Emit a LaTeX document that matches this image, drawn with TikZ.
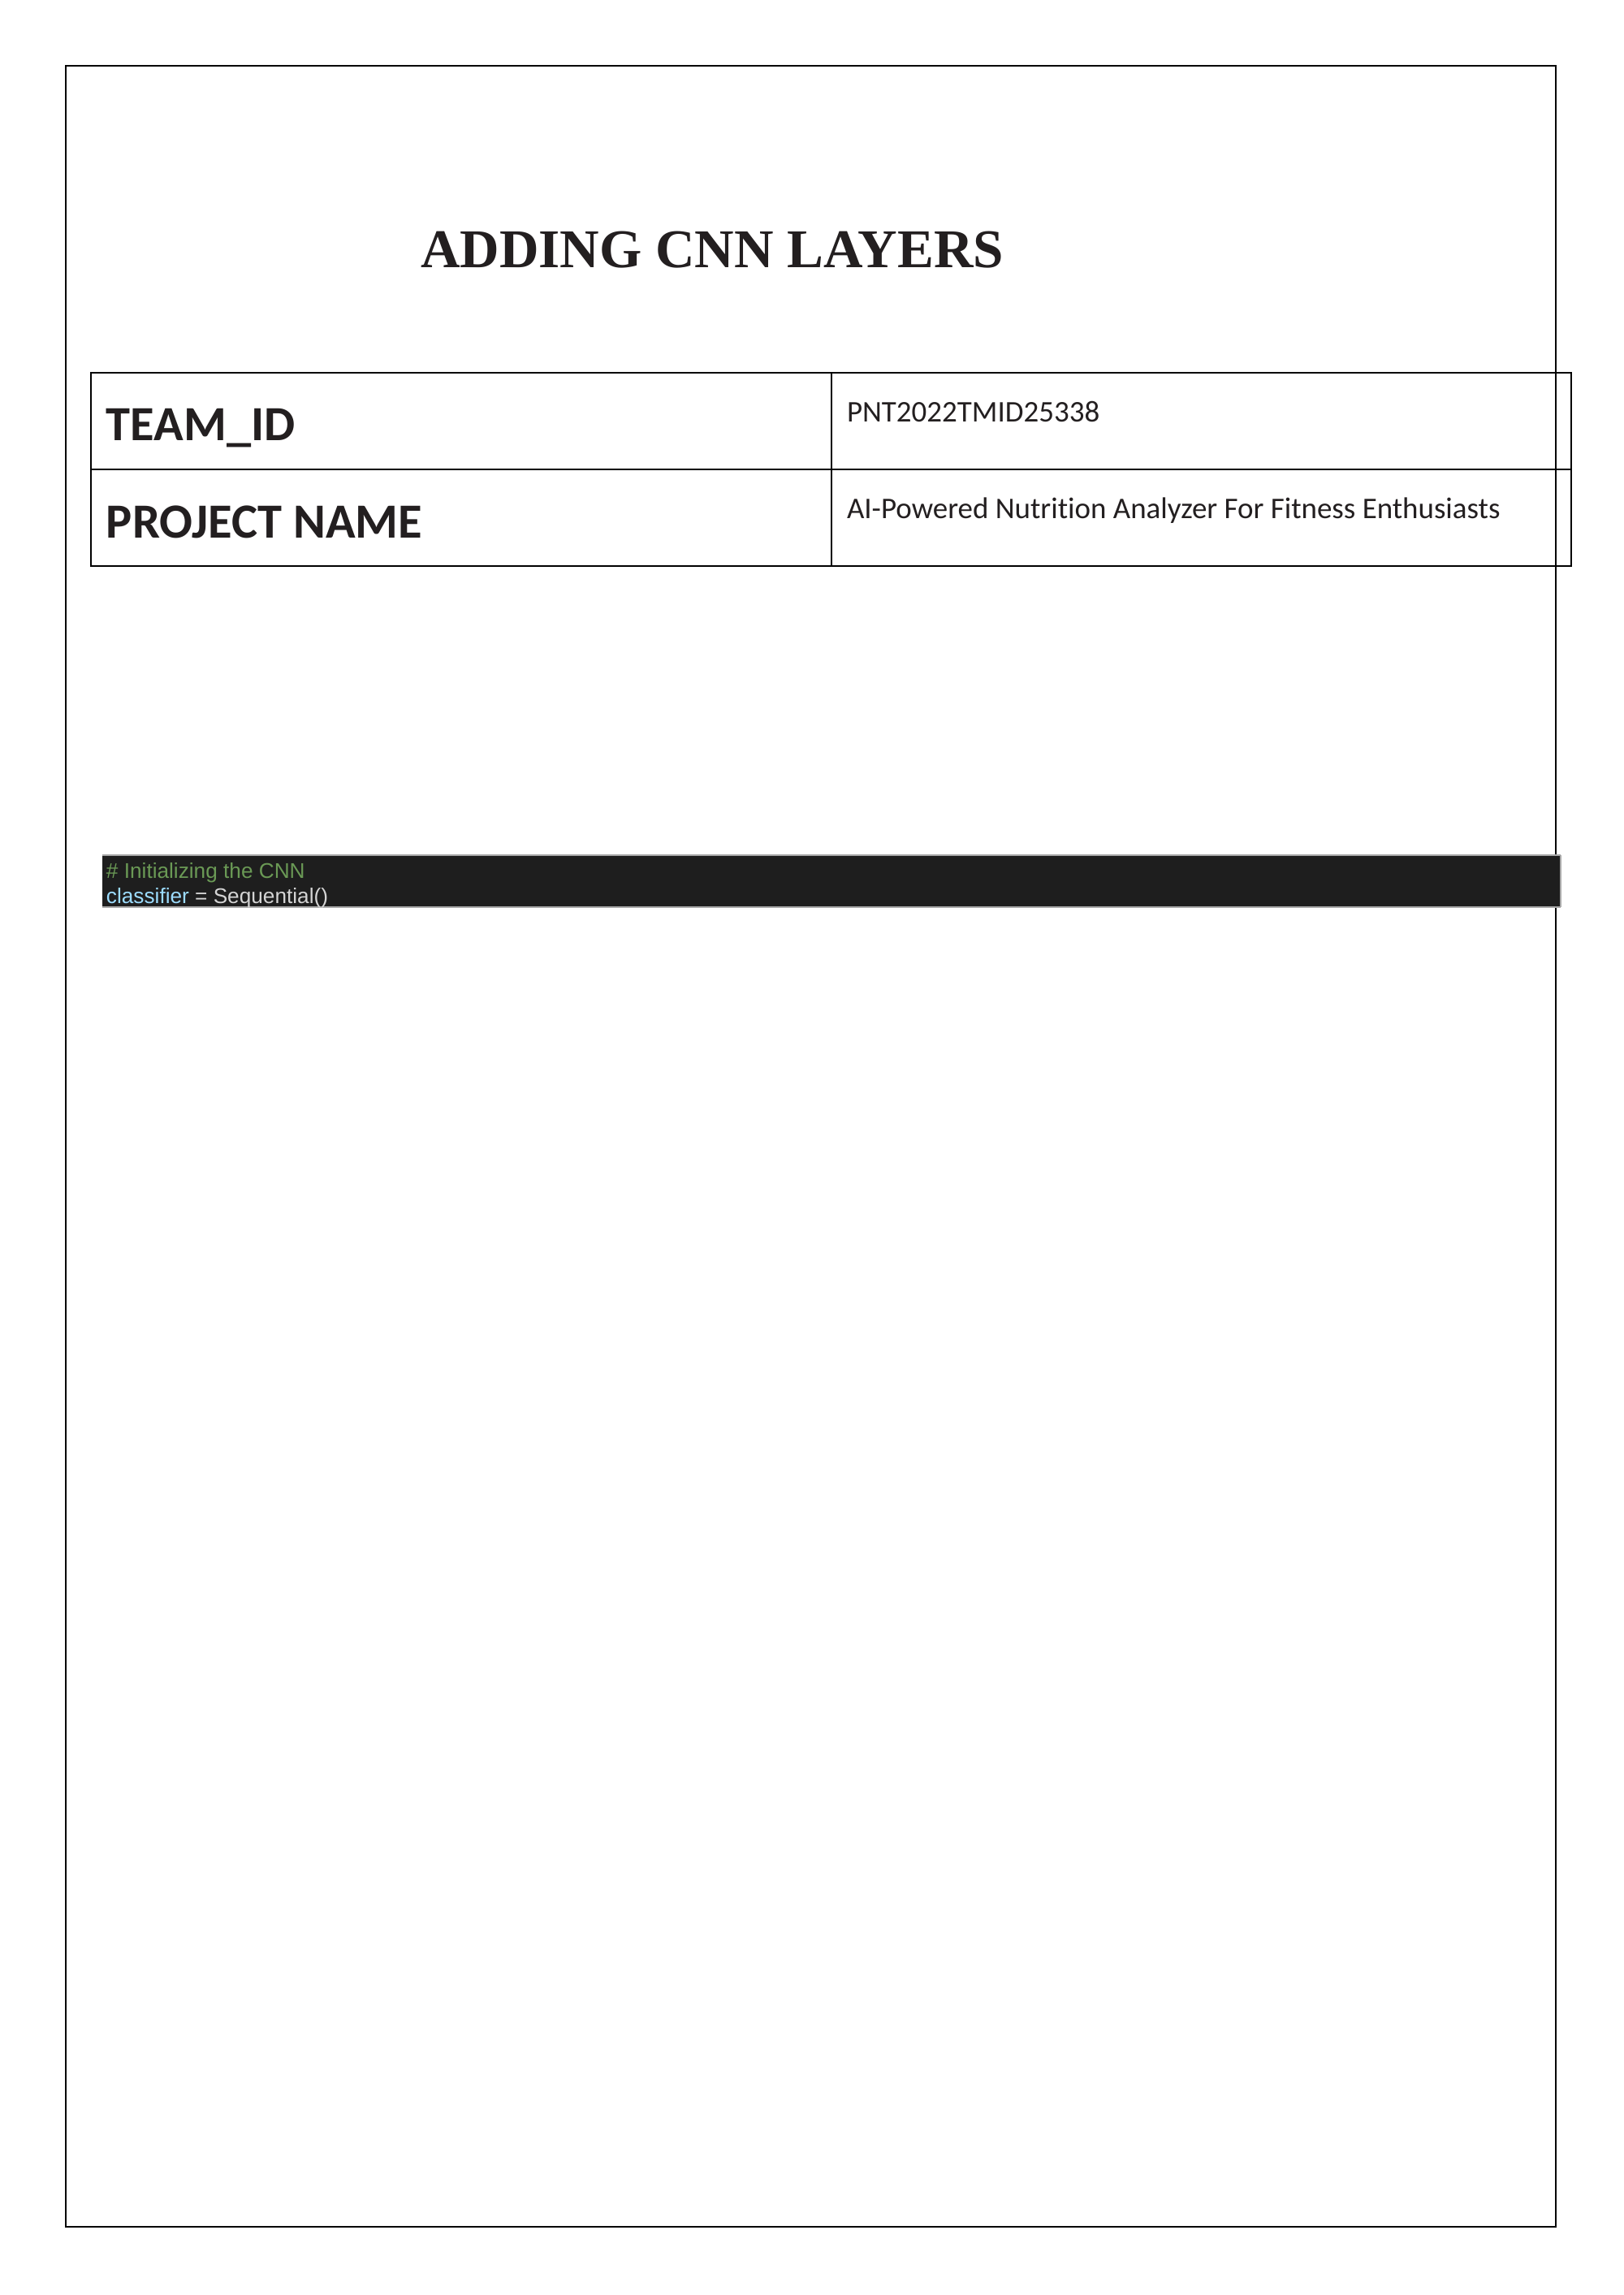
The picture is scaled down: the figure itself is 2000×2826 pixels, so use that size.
\documentclass[tikz,border=0pt]{standalone}
\usepackage{fontspec}
\setmainfont{Carlito}[Ligatures=NoCommon]
\newfontfamily\titlefont{Liberation Serif}
\newfontfamily\codefont{Liberation Sans}
\definecolor{ink}{HTML}{231F20}
\definecolor{codebg}{HTML}{1E1E1E}
\definecolor{codeborder}{HTML}{A8A8A8}
\definecolor{cmt}{HTML}{6A9955}
\definecolor{var}{HTML}{9CDCFE}
\definecolor{plain}{HTML}{D4D4D4}
\begin{document}
\begin{tikzpicture}[x=0.29765pt,y=-0.29765pt,
  txt/.style={inner sep=0pt,outer sep=0pt,anchor=base west,text=ink},
  rule/.style={draw=black,line width=0.6pt},
  code/.style={inner sep=0pt,outer sep=0pt,anchor=base west,font=\codefont\fontsize{7.8pt}{9pt}\selectfont}]
\useasboundingbox[fill=white] (0,0) rectangle (2000,2826);
% page frame
\draw[rule,line width=0.75pt] (81,81) rectangle (1916,2742);
% title
\node[txt,font=\titlefont\bfseries\fontsize{20pt}{24pt}\selectfont] (title) at (518,329) {ADDING CNN LAYERS};
% table
\draw[rule] (112,459) rectangle (1935,697);
\draw[rule] (112,578) -- (1935,578);
\draw[rule] (1024,459) -- (1024,697);
\node[txt,font=\bfseries\fontsize{18pt}{22pt}\selectfont] (teamlbl) at (131,542) {TEAM\_ID};
\node[txt,font=\bfseries\fontsize{18pt}{22pt}\selectfont] (projlbl) at (131,662) {PROJECT NAME};
\node[txt,font=\fontsize{11pt}{13pt}\selectfont] (teamval) at (1043,519) {PNT2022TMID25338};
\node[txt,font=\fontsize{11pt}{13pt}\selectfont] (projval) at (1043,638) {AI-Powered Nutrition Analyzer For Fitness Enthusiasts};
% code block
\fill[codebg] (126,1053) rectangle (1922,1117);
\draw[codeborder,line width=0.4pt] (126,1053) -- (1922,1053);
\draw[codeborder,line width=0.4pt] (126,1117) -- (1922,1117);
\draw[codeborder,line width=0.4pt] (1922,1053) -- (1922,1117);
\node[code,text=cmt] (line1) at (131,1081) {\# Initializing the CNN};
\node[code] (line2) at (131,1112) {\textcolor{var}{classifier}\textcolor{plain}{\ = Sequential()}};
\end{tikzpicture}
\end{document}
